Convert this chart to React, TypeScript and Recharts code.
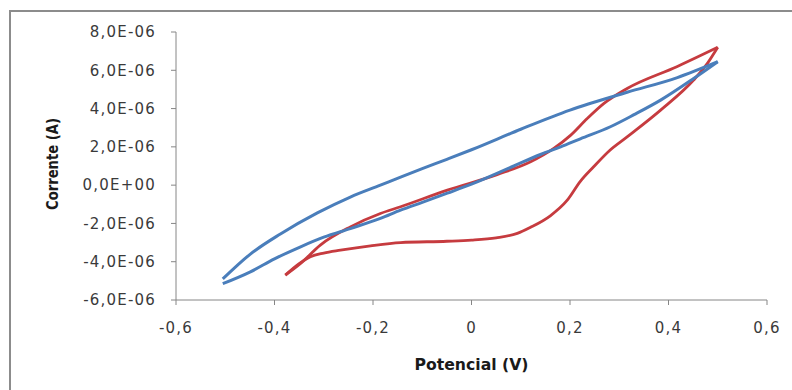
import React from "react";
import { LineChart, Line, XAxis, YAxis, Label } from "recharts";

// Blue loop (potential in V, current in A), one array per branch
const blueLowerV = [-0.505, -0.449, -0.4, -0.347, -0.3, -0.246, -0.185, -0.144, -0.1, -0.049, 0, 0.086, 0.14, 0.181, 0.221, 0.282, 0.33, 0.384, 0.451, 0.5];
const blueLowerI = [-5.15e-6, -4.53e-6, -3.85e-6, -3.22e-6, -2.72e-6, -2.27e-6, -1.74e-6, -1.31e-6, -0.9e-6, -0.42e-6, 0.05e-6, 1.0e-6, 1.6e-6, 2.0e-6, 2.42e-6, 3.05e-6, 3.68e-6, 4.44e-6, 5.57e-6, 6.45e-6];
const blueUpperV = [-0.505, -0.449, -0.388, -0.313, -0.246, -0.185, -0.144, -0.1, -0.05, 0, 0.1, 0.2, 0.316, 0.418, 0.5];
const blueUpperI = [-4.9e-6, -3.6e-6, -2.55e-6, -1.45e-6, -0.62e-6, 0.0, 0.42e-6, 0.86e-6, 1.35e-6, 1.85e-6, 2.92e-6, 3.92e-6, 4.85e-6, 5.62e-6, 6.45e-6];

// Red loop
const redLowerV = [-0.378, -0.35, -0.327, -0.3, -0.266, -0.205, -0.144, -0.05, 0, 0.05, 0.093, 0.12, 0.16, 0.194, 0.221, 0.248, 0.28, 0.316, 0.384, 0.451, 0.479, 0.5];
const redLowerI = [-4.7e-6, -4.1e-6, -3.74e-6, -3.55e-6, -3.4e-6, -3.17e-6, -3.0e-6, -2.93e-6, -2.87e-6, -2.75e-6, -2.52e-6, -2.2e-6, -1.6e-6, -0.8e-6, 0.2e-6, 0.96e-6, 1.8e-6, 2.52e-6, 3.92e-6, 5.49e-6, 6.36e-6, 7.2e-6];
const redUpperV = [-0.378, -0.347, -0.307, -0.246, -0.185, -0.144, -0.049, 0.052, 0.12, 0.167, 0.201, 0.235, 0.269, 0.316, 0.418, 0.5];
const redUpperI = [-4.7e-6, -4.09e-6, -3.13e-6, -2.18e-6, -1.48e-6, -1.13e-6, -0.26e-6, 0.55e-6, 1.22e-6, 1.92e-6, 2.6e-6, 3.48e-6, 4.27e-6, 5.05e-6, 6.2e-6, 7.2e-6];

const xTicks = [-0.6, -0.4, -0.2, 0, 0.2, 0.4, 0.6];
const yTicks = [-6e-6, -4e-6, -2e-6, 0, 2e-6, 4e-6, 6e-6, 8e-6];

const toRows = (vs: number[], is: number[]) => vs.map((v, k) => ({ v, i: is[k] }));
const branches = [
  { key: "redLower", data: toRows(redLowerV, redLowerI), color: "#c63b3f", width: 2.8 },
  { key: "redUpper", data: toRows(redUpperV, redUpperI), color: "#c63b3f", width: 2.8 },
  { key: "blueLower", data: toRows(blueLowerV, blueLowerI), color: "#4a7ebb", width: 3 },
  { key: "blueUpper", data: toRows(blueUpperV, blueUpperI), color: "#4a7ebb", width: 3 },
];

const FONT = "'DejaVu Sans', sans-serif";
const AXIS = "#868686";

const fmtX = (v: number) => (v === 0 ? "0" : v.toFixed(1).replace(".", ","));
const fmtY = (v: number) => {
  if (v === 0) return "0,0E+00";
  const [m, e] = v.toExponential(1).split("e");
  const exp = parseInt(e, 10);
  const sign = exp < 0 ? "-" : "+";
  return `${m.replace(".", ",")}E${sign}${String(Math.abs(exp)).padStart(2, "0")}`;
};

export default function App() {
  const tickStyle = { fontFamily: FONT, fontSize: 15, fill: "#3a3a3a", letterSpacing: 1.2 };
  return (
    <div style={{ position: "absolute", left: 0, top: 0, width: 792, height: 390, background: "#fff" }}>
      <div
        style={{
          position: "absolute",
          left: 9,
          top: 10,
          width: 783,
          height: 380,
          borderLeft: "2px solid #8c8c8c",
          borderTop: "2px solid #8c8c8c",
        }}
      />
      <div style={{ position: "absolute", left: 0, top: 0 }}>
        <LineChart width={792} height={390} margin={{ top: 32, right: 25, left: 0, bottom: 30 }}>
          <XAxis
            type="number"
            dataKey="v"
            domain={[-0.6, 0.6]}
            ticks={xTicks}
            tickFormatter={fmtX}
            stroke={AXIS}
            tickSize={5}
            tickMargin={17}
            height={60}
            tick={tickStyle}
            allowDataOverflow
          >
            <Label
              content={({ viewBox }: any) => (
                <text
                  x={viewBox.x + viewBox.width / 2}
                  y={viewBox.y + 64}
                  textAnchor="middle"
                  dominantBaseline="central"
                  fontFamily={FONT}
                  fontSize={16}
                  fontWeight="bold"
                  fill="#1a1a1a"
                  textLength={114}
                  lengthAdjust="spacingAndGlyphs"
                >
                  Potencial (V)
                </text>
              )}
            />
          </XAxis>
          <YAxis
            type="number"
            dataKey="i"
            domain={[-6e-6, 8e-6]}
            ticks={yTicks}
            tickFormatter={fmtY}
            stroke={AXIS}
            tickSize={5}
            tickMargin={15}
            width={176}
            tick={tickStyle}
            allowDataOverflow
          >
            <Label
              content={({ viewBox }: any) => {
                const cx = viewBox.x + 52;
                const cy = 164;
                return (
                  <text
                    x={cx}
                    y={cy}
                    transform={`rotate(-90, ${cx}, ${cy})`}
                    textAnchor="middle"
                    dominantBaseline="central"
                    fontFamily={FONT}
                    fontSize={16}
                    fontWeight="bold"
                    fill="#1a1a1a"
                    textLength={92}
                    lengthAdjust="spacingAndGlyphs"
                  >
                    Corrente (A)
                  </text>
                );
              }}
            />
          </YAxis>
          {branches.map((b) => (
            <Line
              key={b.key}
              data={b.data}
              dataKey="i"
              type="monotone"
              stroke={b.color}
              strokeWidth={b.width}
              dot={false}
              isAnimationActive={false}
            />
          ))}
        </LineChart>
      </div>
    </div>
  );
}
